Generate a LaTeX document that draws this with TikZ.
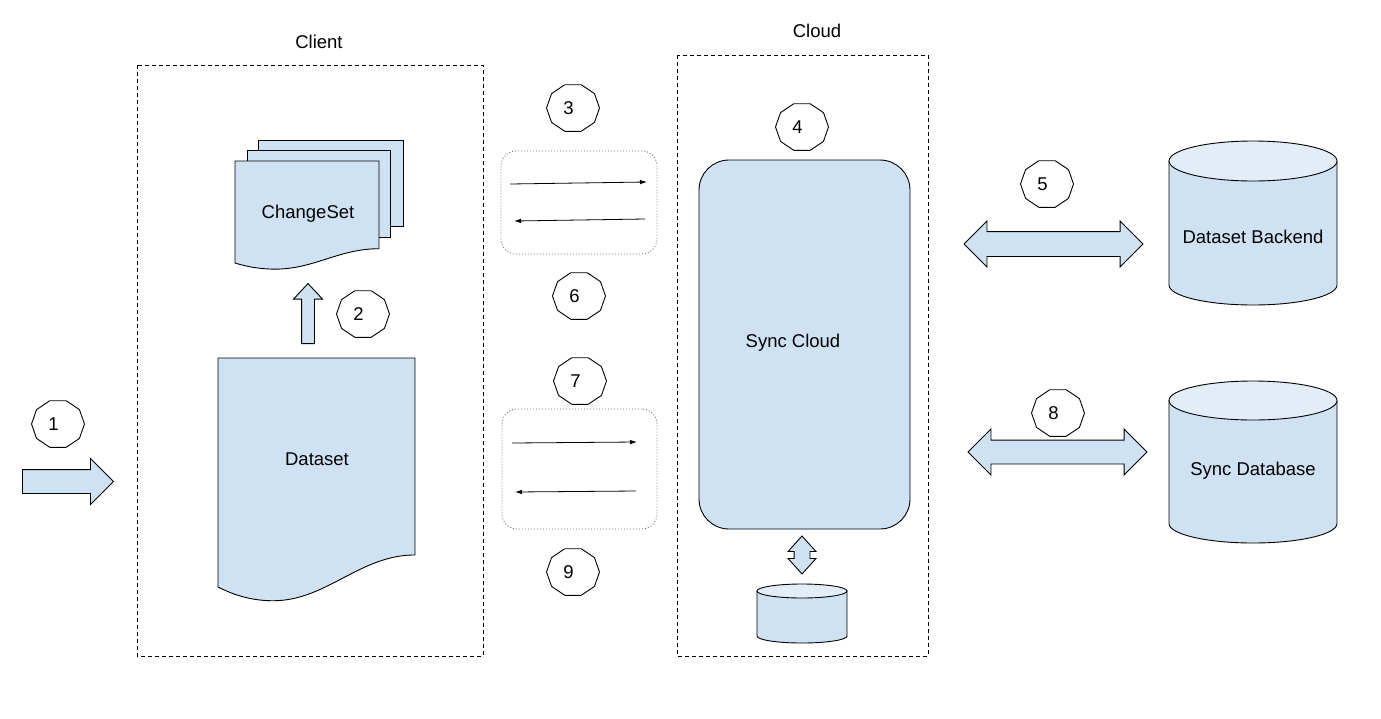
\documentclass[tikz,border=0pt]{standalone}
\usepackage{fontspec}
\setmainfont{Liberation Sans}
\usetikzlibrary{arrows.meta,shapes.arrows}
\definecolor{paleblue}{HTML}{CFE2F3}
\definecolor{capblue}{HTML}{E2EDF8}

\newcommand\docsheet[4]{%
  \draw[sheet,shift={(#1,#2)},xscale=#3,yscale=#4]
    (0,0) -- (1,0) -- (1,0.86) .. controls (0.72,0.86) and (0.55,1.06) .. (0.28,1.06)
    .. controls (0.17,1.06) and (0.08,1.035) .. (0,1) -- cycle;}
\newcommand\dbcyl[5]{%
  \draw[sheet] (#1,#2) ++(-#4,0) -- ++(0,#3-#2)
    arc[start angle=180,end angle=0,x radius=#4,y radius=#5] -- ++(0,#2-#3) -- cycle;
  \draw[sheet,fill=capblue] (#1,#2) ellipse[x radius=#4,y radius=#5];}
\newcommand\stepno[3]{%
  \draw[stepedge,shift={(#2)}] (0:26.5 and 24.5)
    \foreach \a in {36,72,...,324}{ -- (\a:26.5 and 24.5)} -- cycle;
  \node[steptext] (#1) at (#2) {#3};}

\begin{document}
\begin{tikzpicture}[x=1pt,y=-1pt,font=\fontsize{18.5}{22}\selectfont,
  sheet/.style={draw=black,fill=paleblue,line width=0.9pt},
  frame/.style={draw=black,line width=0.9pt,dash pattern=on 4pt off 3pt},
  channel/.style={draw=black!55,rounded corners=15pt,line width=0.9pt,dash pattern=on 1pt off 2pt},
  msg/.style={line width=0.8pt,-{Latex[length=7pt,width=4.5pt]}},
  stepedge/.style={draw=black,fill=white,line width=0.9pt},
  steptext/.style={inner sep=0pt,xshift=-4.5pt},
  fatarrow/.style={single arrow,draw=black,fill=paleblue,line width=0.9pt,inner xsep=0pt,minimum width=0pt,anchor=tail},
  twinarrow/.style={double arrow,draw=black,fill=paleblue,line width=0.9pt,inner xsep=0pt,minimum width=0pt}]
\useasboundingbox (0,0) rectangle (1381,718);

% client and cloud frames
\draw[frame] (137,65) rectangle (483,656);
\draw[frame] (677,55) rectangle (928,656);
\node (client) at (319,42) {Client};
\node (cloud) at (817,31) {Cloud};

% changeset stack and dataset
\draw[sheet] (258,140) rectangle (403,226);
\draw[sheet] (247,150) rectangle (390,237);
\docsheet{235}{161}{144}{102}
\node (changeset) at (308,214) {ChangeSet};
\docsheet{218}{358}{197}{229}
\node (dataset) at (317,459) {Dataset};

% sync channels
\node[channel,minimum width=156pt,minimum height=103pt] (uplink) at (579,202.5) {};
\node[channel,minimum width=155pt,minimum height=120pt] (downlink) at (579.5,469) {};
\foreach \nm/\p in {s1/{510,184},e1/{647,182},s2/{645,219},e2/{514,221},
                    s3/{512,443},e3/{637,442},s4/{636,491},e4/{515,492}}
  \coordinate (\nm) at (\p);
\draw[msg] (s1) -- (e1);
\draw[msg] (s2) -- (e2);
\draw[msg] (s3) -- (e3);
\draw[msg] (s4) -- (e4);

% cloud side
\node[sheet,rounded corners=30pt,minimum width=211pt,minimum height=369pt] (synccloud) at (804.5,344.5) {};
\node at (793,343) {Sync Cloud};
\dbcyl{802}{591}{636}{45}{7}
\dbcyl{1253}{161}{285}{84}{20}
\node (backend) at (1253,237) {Dataset Backend};
\dbcyl{1253}{400.5}{523.5}{84}{19.5}
\node (syncdb) at (1253,471) {Sync Database};

% block arrows
\node[fatarrow,inner ysep=11.5pt,single arrow head extend=11pt,minimum height=91pt] (input) at (22,481.5) {};
\node[fatarrow,rotate=90,inner ysep=6pt,single arrow head extend=8pt,minimum height=60pt,single arrow tip angle=86] (record) at (308,344) {};
\node[twinarrow,inner ysep=12pt,double arrow head extend=10.5pt,minimum height=179pt] (backendlink) at (1053.5,244) {};
\node[twinarrow,inner ysep=11.5pt,double arrow head extend=11pt,minimum height=179pt] (dblink) at (1057.5,452) {};
\node[twinarrow,rotate=90,inner ysep=7.5pt,double arrow head extend=6pt,minimum height=38pt,double arrow tip angle=84] (storelink) at (802,555) {};

% step numbers
\stepno{n1}{58,424}{1}
\stepno{n2}{363,314}{2}
\stepno{n3}{573,108}{3}
\stepno{n4}{802,127}{4}
\stepno{n5}{1047,184}{5}
\stepno{n6}{579,296}{6}
\stepno{n7}{580,381}{7}
\stepno{n8}{1058,413}{8}
\stepno{n9}{573,572}{9}
\end{tikzpicture}
\end{document}
